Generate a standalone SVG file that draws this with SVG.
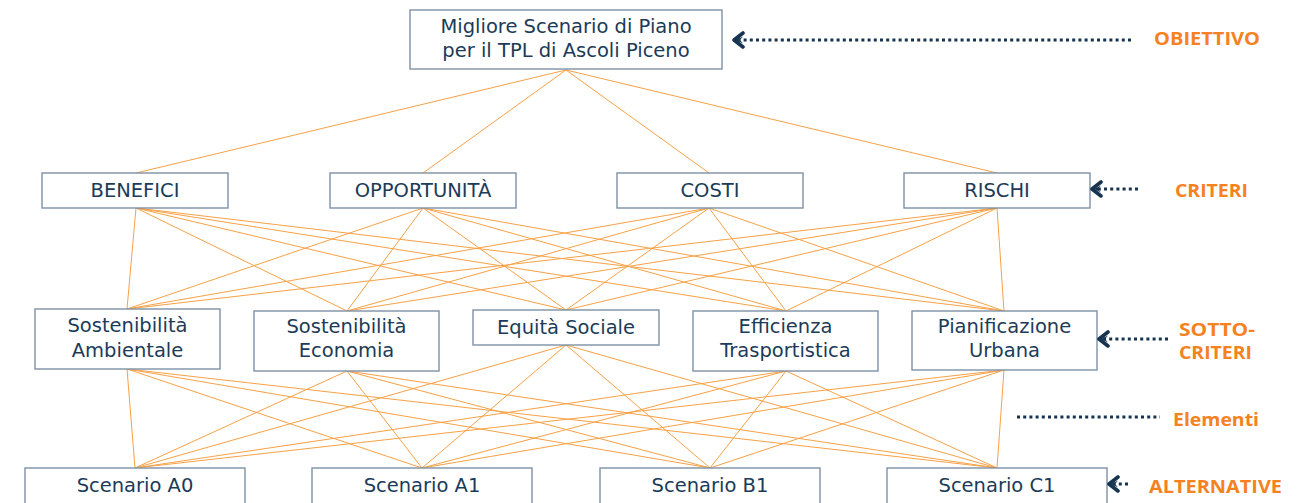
<svg xmlns="http://www.w3.org/2000/svg" width="1309" height="503" viewBox="0 0 1309 503">
<style>
.box{fill:#fff;stroke:#7d91a5;stroke-width:1.4}
.t{font-family:"DejaVu Sans","Noto Sans",sans-serif;font-size:19.5px;fill:#1b3b58;text-anchor:middle}
.c{stroke:#f7a146;stroke-width:1;fill:none}
.lab{font-family:"Open Sans","Liberation Sans",sans-serif;font-weight:bold;font-size:17px;fill:#f5821f}
.dot{stroke:#16344f;stroke-width:3;stroke-dasharray:3 3.2;fill:none}
</style>
<defs>
<marker id="ah" viewBox="0 0 14 18" refX="12" refY="9" markerWidth="14" markerHeight="18" markerUnits="userSpaceOnUse" orient="auto">
<path d="M3,2 L12,9 L3,16" fill="none" stroke="#16344f" stroke-width="3.6" stroke-linecap="round" stroke-linejoin="round"/>
<path d="M10,9 L3,5.5 L6,9 L3,12.5 Z" fill="#16344f"/>
</marker>
</defs>
<g id="connectors">
<path class="c" d="M566,70L136,173M566,70L423,173M566,70L709,173M566,70L997,173"/>
<path class="c" d="M136,208L127,309M136,208L347,311M136,208L566,310M136,208L786,311M136,208L1004,311"/>
<path class="c" d="M423,208L127,309M423,208L347,311M423,208L566,310M423,208L786,311M423,208L1004,311"/>
<path class="c" d="M709,208L127,309M709,208L347,311M709,208L566,310M709,208L786,311M709,208L1004,311"/>
<path class="c" d="M997,208L127,309M997,208L347,311M997,208L566,310M997,208L786,311M997,208L1004,311"/>
<path class="c" d="M127,369L135,468M127,369L422,468M127,369L710,468M127,369L997,468"/>
<path class="c" d="M347,371L135,468M347,371L422,468M347,371L710,468M347,371L997,468"/>
<path class="c" d="M566,345L135,468M566,345L422,468M566,345L710,468M566,345L997,468"/>
<path class="c" d="M786,371L135,468M786,371L422,468M786,371L710,468M786,371L997,468"/>
<path class="c" d="M1004,370L135,468M1004,370L422,468M1004,370L710,468M1004,370L997,468"/>
</g>
<g id="goal"><rect class="box" x="410" y="10" width="312" height="59"/><text class="t" x="566" y="33">Migliore Scenario di Piano</text><text class="t" x="566" y="57">per il TPL di Ascoli Piceno</text></g>
<g id="benefici"><rect class="box" x="42" y="173" width="186" height="35"/><text class="t" x="135" y="196.5">BENEFICI</text></g>
<g id="opportunita"><rect class="box" x="330" y="173" width="186" height="35"/><text class="t" x="423" y="196.5">OPPORTUNITÀ</text></g>
<g id="costi"><rect class="box" x="617" y="173" width="186" height="35"/><text class="t" x="710" y="196.5">COSTI</text></g>
<g id="rischi"><rect class="box" x="904" y="173" width="186" height="35"/><text class="t" x="997" y="196.5">RISCHI</text></g>
<g id="sost-amb"><rect class="box" x="35" y="309" width="185" height="60"/><text class="t" x="127.5" y="332">Sostenibilità</text><text class="t" x="127.5" y="356.5">Ambientale</text></g>
<g id="sost-eco"><rect class="box" x="254" y="311" width="185" height="60"/><text class="t" x="346.5" y="333">Sostenibilità</text><text class="t" x="346.5" y="357">Economia</text></g>
<g id="equita"><rect class="box" x="473" y="310" width="186" height="35"/><text class="t" x="566" y="333.5">Equità Sociale</text></g>
<g id="efficienza"><rect class="box" x="693" y="311" width="185" height="60"/><text class="t" x="785.5" y="333">Efficienza</text><text class="t" x="785.5" y="357">Trasportistica</text></g>
<g id="pianificazione"><rect class="box" x="912" y="311" width="185" height="59"/><text class="t" x="1004.5" y="333">Pianificazione</text><text class="t" x="1004.5" y="357">Urbana</text></g>
<g id="scen-a0"><rect class="box" x="25" y="468" width="220" height="45"/><text class="t" x="135" y="492">Scenario A0</text></g>
<g id="scen-a1"><rect class="box" x="312" y="468" width="220" height="45"/><text class="t" x="422" y="492">Scenario A1</text></g>
<g id="scen-b1"><rect class="box" x="600" y="468" width="220" height="45"/><text class="t" x="710" y="492">Scenario B1</text></g>
<g id="scen-c1"><rect class="box" x="887" y="468" width="220" height="45"/><text class="t" x="997" y="492">Scenario C1</text></g>
<g id="levels">
<line class="dot" x1="1131" y1="40" x2="734" y2="40" marker-end="url(#ah)"/>
<line class="dot" x1="1138" y1="189" x2="1092" y2="189" marker-end="url(#ah)"/>
<line class="dot" x1="1168" y1="339" x2="1099" y2="339" marker-end="url(#ah)"/>
<line class="dot" x1="1017" y1="417" x2="1160" y2="417"/>
<line class="dot" x1="1128" y1="484" x2="1109" y2="484" marker-end="url(#ah)"/>
<text class="lab" x="1154" y="45" textLength="106" lengthAdjust="spacingAndGlyphs">OBIETTIVO</text>
<text class="lab" x="1175" y="197" textLength="73" lengthAdjust="spacingAndGlyphs">CRITERI</text>
<text class="lab" x="1179" y="336" textLength="76" lengthAdjust="spacingAndGlyphs">SOTTO-</text>
<text class="lab" x="1179" y="359" textLength="73" lengthAdjust="spacingAndGlyphs">CRITERI</text>
<text class="lab" x="1173" y="426" textLength="86" lengthAdjust="spacingAndGlyphs">Elementi</text>
<text class="lab" x="1149" y="493" textLength="133" lengthAdjust="spacingAndGlyphs">ALTERNATIVE</text>
</g>
</svg>
